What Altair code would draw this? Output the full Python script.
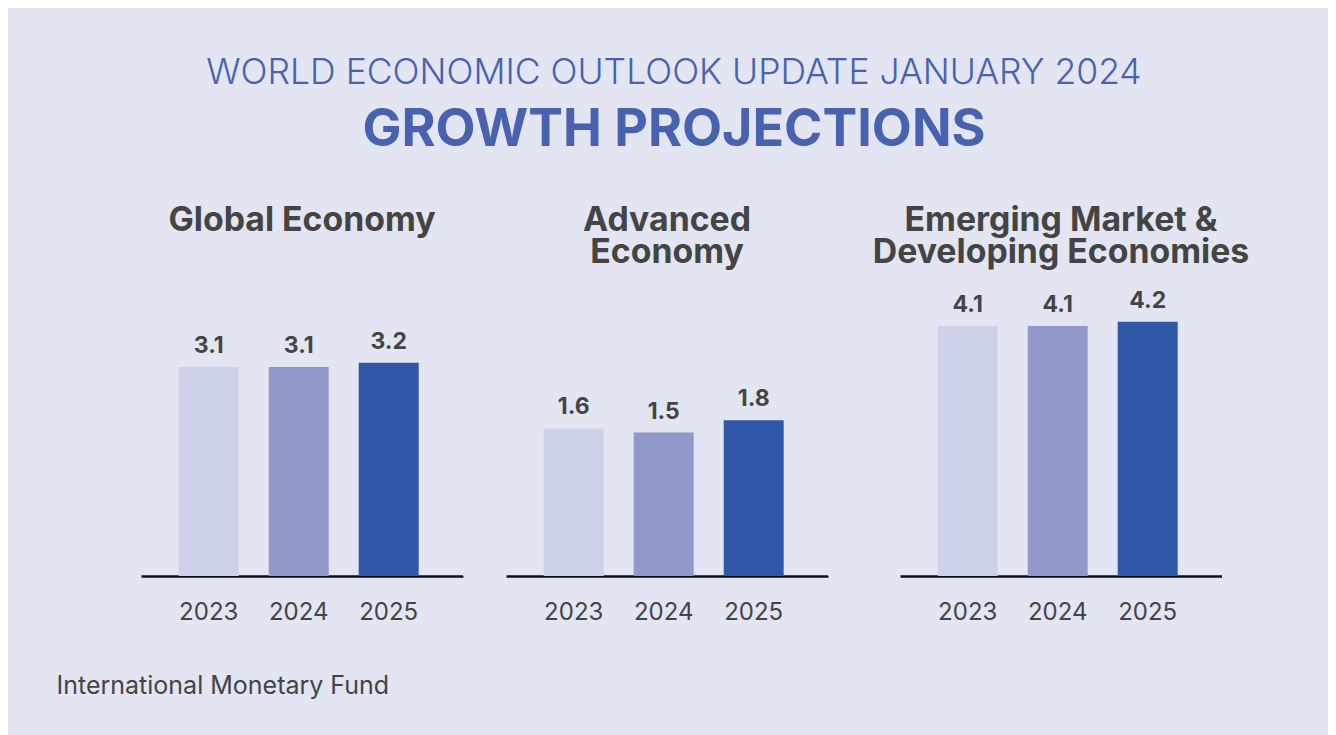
import altair as alt
import pandas as pd

# ---- data ----
years = ["2023", "2024", "2025"]
global_vals = [3.1, 3.1, 3.2]
advanced_vals = [1.6, 1.5, 1.8]
emerging_vals = [4.1, 4.1, 4.2]
panel_titles = [["Global Economy", " "], ["Advanced", "Economy"],
                ["Emerging Market &", "Developing Economies"]]
year_colors = ["#cdd1ea", "#9198cb", "#2f58a9"]
main_title = "WORLD ECONOMIC OUTLOOK UPDATE JANUARY 2024"
sub_title = "GROWTH PROJECTIONS"
source = "International Monetary Fund"

BG = "#e3e5f2"
FONT = "Inter"
DARK = "#444444"
BLUE = "#4862b0"

Y_MIN, Y_MAX = -2.0, 5.22
PANEL_W, PANEL_H = 322, 296


def panel(title_lines, vals, footer=None):
    df = pd.DataFrame({"year": years, "value": vals,
                       "label": [f"{v:.1f}" for v in vals]})
    base = alt.Chart(df)
    axis_kw = dict(domainColor="#111111", domainWidth=2.5, ticks=False, grid=False,
                   labelFont=FONT, labelFontSize=24, labelColor=DARK,
                   labelPadding=24, labelAngle=0)
    if footer:
        axis_kw.update(title=footer, titleFont=FONT, titleFontSize=25,
                       titleFontWeight="normal", titleColor=DARK,
                       titleAnchor="start", titleAlign="left", titleX=-85, titleY=117,
                       titleBaseline="alphabetic")
    else:
        axis_kw.update(title=None)
    x = alt.X("year:N", sort=years,
              scale=alt.Scale(paddingInner=1 / 3, paddingOuter=0.456, align=0.46),
              axis=alt.Axis(**axis_kw))
    y = alt.Y("value:Q", scale=alt.Scale(domain=[Y_MIN, Y_MAX], nice=False, zero=False),
              axis=None)
    bars = base.mark_bar().encode(
        x=x, y=y, y2=alt.datum(Y_MIN),
        color=alt.Color("year:N", scale=alt.Scale(domain=years, range=year_colors),
                        legend=None))
    labels = base.mark_text(font=FONT, fontSize=23, fontWeight="bold", color=DARK,
                            baseline="alphabetic", dy=-14).encode(
        x=alt.X("year:N", sort=years), y=alt.Y("value:Q"), text="label:N")
    return alt.layer(bars, labels).properties(
        width=PANEL_W, height=PANEL_H,
        title=alt.TitleParams(title_lines, font=FONT, fontSize=33.8, fontWeight="bold",
                              color=DARK, lineHeight=32, anchor="middle", offset=10))


def spacer(w, h=PANEL_H):
    return alt.Chart(pd.DataFrame({"a": [0]})).mark_point(opacity=0, size=0).encode(
        x=alt.value(w / 2), y=alt.value(h / 2)).properties(
        width=w, height=h, view=alt.ViewBackground(fill=BG))


p1 = panel(panel_titles[0], global_vals, footer=source)
p2 = panel(panel_titles[1], advanced_vals)
p3 = panel(panel_titles[2], emerging_vals)

chart = alt.hconcat(spacer(133, 462), p1, spacer(43), p2, spacer(72), p3, spacer(106, 462),
                    spacing=0, bounds="flush").properties(
    title=alt.TitleParams(main_title, subtitle=sub_title, font=FONT, fontSize=35.5,
                          fontWeight=300, color=BLUE, subtitleFont=FONT,
                          subtitleFontSize=52, subtitleFontWeight="bold",
                          subtitleColor=BLUE, subtitlePadding=14, anchor="middle",
                          offset=48, dx=6),
    background=BG,
    padding={"left": 0, "top": 47, "right": 0, "bottom": 0},
).configure_view(stroke=None)

chart.save("out.html", embed_options={"renderer": "svg", "actions": False})
